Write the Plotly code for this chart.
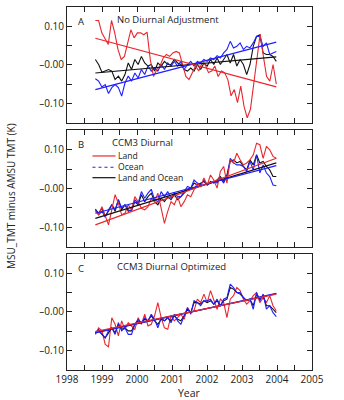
import numpy as np
import plotly.graph_objects as go

# time span of the monthly series (years)
t_start, t_end = 1998.81, 2003.98

# ---------------- Panel A: No Diurnal Adjustment ----------------
a_land = [0.115, 0.115, 0.083, 0.066, 0.053, 0.115, 0.083, 0.04, 0.014, 0.022, 0.057, 0.091,
          0.07, 0.083, 0.083, 0.078, 0.085, 0.014, -0.03, -0.012, -0.003, 0.018, 0.027, 0.022,
          0.031, 0.035, 0.031, -0.003, -0.03, -0.038, -0.02, -0.003, -0.016, 0.005, 0.001, -0.02,
          -0.016, -0.003, -0.03, -0.016, -0.02, -0.038, -0.08, -0.064, -0.098, -0.055, -0.107, -0.137,
          -0.115, -0.047, 0.022, 0.08, 0.022, -0.03, -0.042, 0.001, -0.05]
a_ocean = [-0.036, -0.042, -0.057, -0.051, -0.074, -0.059, -0.051, -0.059, -0.081, -0.047, -0.029,
           -0.042, -0.021, -0.034, -0.012, -0.025, -0.003, -0.016, -0.008, -0.016, 0.001, -0.012,
           0.005, -0.003, 0.009, -0.003, 0.009, -0.012, 0.001, 0.009, -0.003, 0.009, 0.005, 0.014,
           0.009, 0.018, 0.014, 0.024, 0.018, 0.031, 0.04, 0.061, 0.044, 0.048, 0.057, 0.04, 0.048,
           0.044, 0.057, 0.074, 0.074, 0.048, 0.057, 0.027, 0.031, 0.035]
a_both = [0.014, 0.001, -0.019, -0.016, -0.012, -0.016, -0.038, -0.029, -0.042, -0.025, 0.005,
          -0.012, 0.014, 0.001, 0.022, 0.005, -0.003, 0.001, -0.016, 0.005, -0.003, 0.009, 0.001,
          0.001, 0.014, 0.005, 0.001, -0.012, -0.016, -0.008, -0.016, 0.001, -0.012, 0.005, -0.003,
          0.014, 0.001, 0.018, 0.001, 0.014, 0.027, 0.005, 0.027, -0.003, 0.014, 0.001, -0.025,
          0.001, 0.048, 0.074, 0.078, 0.031, 0.027, 0.027, 0.022, 0.009]
a_trend_land = [0.069, -0.057]
a_trend_ocean = [-0.064, 0.059]
a_trend_both = [-0.021, 0.021]

# ---------------- Panel B: CCM3 Diurnal ----------------
b_land = [-0.059, -0.068, -0.047, -0.072, -0.094, -0.055, -0.016, -0.038, -0.068, -0.064, -0.042,
          -0.055, -0.021, -0.034, -0.051, -0.055, -0.047, -0.025, -0.034, -0.012, -0.051, -0.09,
          -0.059, -0.034, -0.042, -0.021, -0.047, -0.034, -0.016, -0.021, -0.003, 0.014, 0.005,
          0.027, 0.009, 0.035, 0.022, 0.001, 0.044, 0.057, 0.014, 0.074, 0.066, 0.091, 0.074, 0.061,
          0.066, 0.074, 0.087, 0.117, 0.113, 0.078, 0.109, 0.1, 0.083, 0.078]
b_ocean = [-0.055, -0.068, -0.059, -0.074, -0.055, -0.042, -0.055, -0.029, -0.051, -0.042, -0.055,
           -0.059, -0.029, -0.038, -0.008, -0.025, -0.012, -0.002, -0.029, -0.034, -0.008, -0.021,
           -0.008, -0.025, -0.012, -0.021, -0.021, -0.008, 0.005, 0.001, 0.022, 0.014, 0.009, 0.022,
           0.009, 0.014, 0.018, 0.014, 0.027, 0.014, 0.031, 0.078, 0.066, 0.061, 0.061, 0.057, 0.044,
           0.07, 0.048, 0.087, 0.04, 0.061, 0.04, 0.031, 0.009, 0.007]
b_both = [-0.053, -0.064, -0.051, -0.071, -0.059, -0.042, -0.059, -0.029, -0.055, -0.042, -0.059,
          -0.055, -0.034, -0.042, -0.016, -0.034, -0.021, -0.012, -0.034, -0.042, -0.025, -0.034,
          -0.021, -0.029, -0.016, -0.029, -0.021, -0.012, -0.003, 0.001, 0.014, 0.009, 0.014, 0.018,
          0.009, 0.018, 0.014, 0.022, 0.031, 0.018, 0.035, 0.07, 0.074, 0.066, 0.07, 0.057, 0.048,
          0.074, 0.061, 0.087, 0.066, 0.07, 0.057, 0.048, 0.031, 0.031]
b_trend_land = [-0.094, 0.078]
b_trend_ocean = [-0.064, 0.059]
b_trend_both = [-0.077, 0.066]

# ---------------- Panel C: CCM3 Diurnal Optimized ----------------
c_land = [-0.058, -0.041, -0.049, -0.084, -0.09, -0.015, -0.032, -0.062, -0.023, -0.045, -0.028,
          -0.036, -0.045, -0.015, -0.032, -0.006, -0.036, -0.032, -0.01, 0.024, -0.015, -0.041,
          -0.045, -0.01, -0.023, -0.015, -0.006, -0.019, 0.011, -0.002, 0.003, 0.033, 0.024, 0.046,
          0.024, 0.055, 0.029, 0.007, 0.033, 0.024, -0.015, 0.033, 0.042, 0.063, 0.055, 0.033, 0.02,
          0.029, 0.042, 0.05, 0.024, 0.037, 0.024, 0.042, 0.016, 0.003]
c_ocean = [-0.054, -0.045, -0.058, -0.067, -0.049, -0.041, -0.058, -0.028, -0.049, -0.041, -0.058,
           -0.058, -0.032, -0.019, -0.028, -0.015, -0.023, -0.006, -0.019, -0.041, -0.015, -0.023,
           -0.015, -0.028, -0.006, -0.023, -0.032, -0.01, 0.011, -0.006, 0.029, 0.024, 0.016, 0.029,
           0.029, 0.033, 0.02, 0.033, 0.016, 0.033, 0.037, 0.072, 0.063, 0.05, 0.05, 0.037, 0.029,
           0.033, 0.007, 0.05, 0.029, 0.046, 0.007, 0.016, -0.002, -0.012]
c_both = [-0.055, -0.049, -0.058, -0.067, -0.054, -0.041, -0.054, -0.032, -0.045, -0.041, -0.049,
          -0.049, -0.032, -0.023, -0.028, -0.019, -0.023, -0.01, -0.023, -0.032, -0.019, -0.023,
          -0.015, -0.023, -0.01, -0.019, -0.023, -0.01, 0.007, -0.002, 0.024, 0.024, 0.02, 0.029,
          0.024, 0.029, 0.02, 0.029, 0.016, 0.029, 0.033, 0.063, 0.059, 0.05, 0.046, 0.037, 0.029,
          0.033, 0.016, 0.046, 0.033, 0.042, 0.016, 0.016, 0.007, -0.002]
c_trend_land = [-0.051, 0.046]
c_trend_ocean = [-0.054, 0.048]
c_trend_both = [-0.053, 0.047]

panel_letters = ["A", "B", "C"]
panel_titles = ["No Diurnal Adjustment", "CCM3 Diurnal", "CCM3 Diurnal Optimized"]
legend_names = ["Land", "Ocean", "Land and Ocean"]
y_tick_vals = [-0.10, -0.05, 0.0, 0.05, 0.10]
y_tick_text = ["\u20130.10", "", "\u20130.00", "", "0.10"]

RED = "#e8272d"
BLUE = "#1f1fff"
BLACK = "#111111"
FONT = "Open Sans"

panels = [
    (a_land, a_ocean, a_both, a_trend_land, a_trend_ocean, a_trend_both),
    (b_land, b_ocean, b_both, b_trend_land, b_trend_ocean, b_trend_both),
    (c_land, c_ocean, c_both, c_trend_land, c_trend_ocean, c_trend_both),
]

# vertical domains (paper fraction) for A, B, C
domains = [[0.681, 1.0], [0.340, 0.660], [0.0, 0.320]]
title_x = [0.195, 0.177, 0.195]

fig = go.Figure()
for i, (land, ocean, both, tl, to, tb) in enumerate(panels):
    xa = "x" if i == 0 else f"x{i+1}"
    ya = "y" if i == 0 else f"y{i+1}"
    order = [(both, BLACK), (ocean, BLUE), (land, RED)] if i != 2 else [(land, RED), (both, BLACK), (ocean, BLUE)]
    for series, col in order:
        t = np.linspace(t_start, t_end, len(series))
        fig.add_trace(go.Scatter(x=t, y=series, mode="lines", line=dict(color=col, width=1.1),
                                 xaxis=xa, yaxis=ya, showlegend=False, hoverinfo="skip"))
    trends = [(tb, BLACK), (to, BLUE), (tl, RED)]
    for tr, col in trends:
        fig.add_trace(go.Scatter(x=[t_start, t_end], y=tr, mode="lines", line=dict(color=col, width=1.2),
                                 xaxis=xa, yaxis=ya, showlegend=False, hoverinfo="skip"))

half_years = list(np.arange(1998, 2005.01, 0.5))
layout = dict(
    width=344, height=400,
    margin=dict(l=67, r=32, t=7, b=30, pad=0),
    paper_bgcolor="white", plot_bgcolor="white",
    font=dict(family=FONT, size=10, color="#222"),
    showlegend=False,
)
for i in range(3):
    xk = "xaxis" if i == 0 else f"xaxis{i+1}"
    yk = "yaxis" if i == 0 else f"yaxis{i+1}"
    ya = "y" if i == 0 else f"y{i+1}"
    xa = "x" if i == 0 else f"x{i+1}"
    ticktext = [(str(int(v)) if (abs(v - round(v)) < 1e-6 and i == 2) else "") for v in half_years]
    layout[xk] = dict(range=[1998, 2005], domain=[0, 1], anchor=ya,
                      tickmode="array", tickvals=half_years, ticktext=ticktext,
                      ticks="inside", ticklen=5, tickwidth=1, tickcolor="#222",
                      showline=True, linecolor="#222", linewidth=1, mirror="allticks",
                      showgrid=False, zeroline=False, tickfont=dict(size=10, color="#222"))
    layout[yk] = dict(range=[-0.15, 0.15], domain=domains[i], anchor=xa,
                      tickmode="array", tickvals=y_tick_vals, ticktext=y_tick_text,
                      ticks="inside", ticklen=5, tickwidth=1, tickcolor="#222",
                      showline=True, linecolor="#222", linewidth=1, mirror="allticks",
                      showgrid=False, zeroline=False, tickfont=dict(size=10, color="#222"))
fig.update_layout(**layout)

annotations = []
shapes = []
for i in range(3):
    xa = "x" if i == 0 else f"x{i+1}"
    ya = "y" if i == 0 else f"y{i+1}"
    annotations.append(dict(text=panel_letters[i], xref=f"{xa} domain", yref=f"{ya} domain",
                            x=0.035, y=0.95, xanchor="left", yanchor="top", showarrow=False,
                            font=dict(size=9.5, color="#222")))
    annotations.append(dict(text=panel_titles[i], xref=f"{xa} domain", yref=f"{ya} domain",
                            x=title_x[i], y=0.965, xanchor="left", yanchor="top", showarrow=False,
                            font=dict(size=9.5, color="#222")))

# legend for panel B (line samples + one multi-line text block)
leg_cols = [RED, BLUE, BLACK]
leg_dash = ["solid", "dot", "solid"]
leg_y = [0.78, 0.683, 0.593]
for k in range(3):
    shapes.append(dict(type="line", xref="x2 domain", yref="y2 domain",
                       x0=0.104, x1=0.198, y0=leg_y[k], y1=leg_y[k],
                       line=dict(color=leg_cols[k], width=1.2, dash=leg_dash[k])))
annotations.append(dict(text="<br>".join(legend_names), xref="x2 domain", yref="y2 domain",
                        x=0.205, y=leg_y[1], xanchor="left", yanchor="middle", align="left",
                        showarrow=False, borderpad=0, font=dict(size=8.6, color="#222")))

annotations.append(dict(text="Year", xref="paper", yref="paper", x=0.5, y=-0.062,
                        xanchor="center", yanchor="middle", showarrow=False,
                        font=dict(size=10.5, color="#222")))
annotations.append(dict(text="MSU_TMT minus AMSU TMT (K)", xref="paper", yref="paper",
                        x=-0.228, y=0.48, xanchor="center", yanchor="middle", textangle=-90,
                        showarrow=False, font=dict(size=10, color="#222")))
fig.update_layout(annotations=annotations, shapes=shapes)

fig.write_html("out.html")
